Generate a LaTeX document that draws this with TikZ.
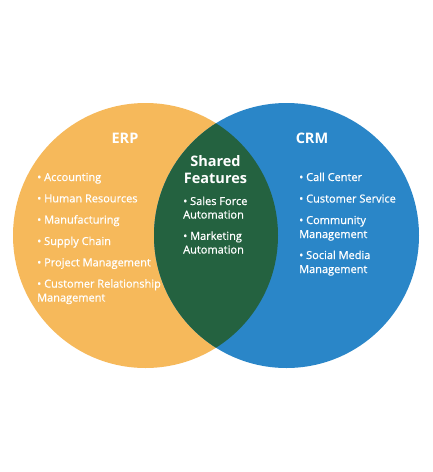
\documentclass[tikz,border=0pt]{standalone}
\usepackage{fontspec}
\setmainfont{Open Sans}
\newfontfamily\itemfont{Open Sans}[FakeBold=0.8]
\definecolor{erpfill}{HTML}{F6B95B}
\definecolor{crmfill}{HTML}{2A86C8}
\definecolor{sharedfill}{HTML}{246240}
\begin{document}
\begin{tikzpicture}[x=1pt,y=-1pt,
  itemtext/.style={anchor=base west,inner sep=0pt,text=white,font=\itemfont\fontsize{11}{14}\selectfont},
  titletext/.style={anchor=base,inner sep=0pt,text=white,font=\fontsize{14.5}{18}\selectfont\bfseries}]
\useasboundingbox (0,0) rectangle (433,472);
\fill[white] (0,0) rectangle (433,472);
% circles
\fill[erpfill] (145.5,235.5) circle (132.5);
\fill[crmfill] (286.5,235.5) circle (132.5);
\begin{scope}
  \clip (145.5,235.5) circle (132.5);
  \fill[sharedfill] (286.5,235.5) circle (132.5);
\end{scope}
% titles
\node[titletext] (erp) at (125,143) {ERP};
\node[titletext] (crm) at (312,143) {CRM};
\node[titletext] (sh1) at (215.5,166) {Shared};
\node[titletext] (sh2) at (215.5,183.5) {Features};
% ERP items
\node[itemtext] (e1) at (37,181) {• Accounting};
\node[itemtext] (e2) at (37,202.3) {• Human Resources};
\node[itemtext] (e3) at (37,223.6) {• Manufacturing};
\node[itemtext] (e4) at (37,245) {• Supply Chain};
\node[itemtext] (e5) at (37,266.3) {• Project Management};
\node[itemtext] (e6) at (37,287.6) {• Customer Relationship};
\node[itemtext] (e7) at (37,301.5) {Management};
% shared items
\node[itemtext] (s1) at (183,205) {• Sales Force};
\node[itemtext] (s2) at (183,218.5) {Automation};
\node[itemtext] (s3) at (183,239.8) {• Marketing};
\node[itemtext] (s4) at (183,253.5) {Automation};
% CRM items
\node[itemtext] (c1) at (299,181) {• Call Center};
\node[itemtext] (c2) at (299,202.5) {• Customer Service};
\node[itemtext] (c3) at (299,224) {• Community};
\node[itemtext] (c4) at (299,238) {Management};
\node[itemtext] (c5) at (299,259) {• Social Media};
\node[itemtext] (c6) at (299,273) {Management};
\end{tikzpicture}
\end{document}
